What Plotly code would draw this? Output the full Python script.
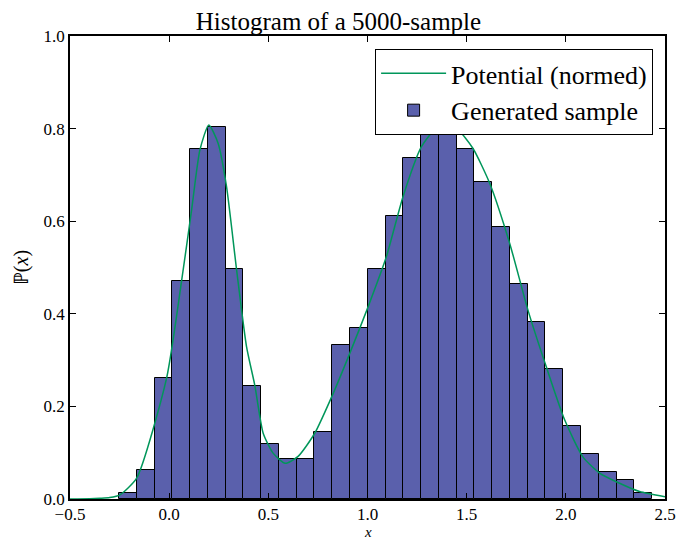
import plotly.graph_objects as go

# Histogram (density)
bin_start = -0.253
bin_width = 0.0896
density = [0.012, 0.062, 0.261, 0.471, 0.755, 0.804, 0.496, 0.245, 0.118, 0.086,
           0.086, 0.144, 0.332, 0.370, 0.496, 0.612, 0.737, 0.815, 0.786, 0.757,
           0.685, 0.588, 0.464, 0.383, 0.281, 0.158, 0.098, 0.058, 0.040, 0.014]

# Normed potential curve
curve_x = [-0.50, -0.40, -0.349, -0.30, -0.248, -0.164, -0.013, 0.063, 0.113, 0.155,
           0.200, 0.247, 0.289, 0.340, 0.390, 0.432, 0.474, 0.524, 0.585, 0.650,
           0.734, 0.827, 0.911, 1.003, 1.095, 1.179, 1.272, 1.347, 1.400, 1.456,
           1.532, 1.616, 1.717, 1.809, 1.901, 1.994, 2.086, 2.170, 2.271, 2.372, 2.50]
curve_y = [0.000, 0.0005, 0.0015, 0.003, 0.009, 0.045, 0.261, 0.472, 0.624, 0.754,
           0.808, 0.768, 0.675, 0.495, 0.329, 0.245, 0.142, 0.099, 0.077, 0.092,
           0.142, 0.228, 0.315, 0.415, 0.523, 0.653, 0.761, 0.801, 0.803, 0.797,
           0.757, 0.682, 0.552, 0.408, 0.286, 0.171, 0.091, 0.056, 0.034, 0.016, 0.005]

x_ticks = [-0.5, 0.0, 0.5, 1.0, 1.5, 2.0, 2.5]
x_labels = ["−0.5", "0.0", "0.5", "1.0", "1.5", "2.0", "2.5"]
y_ticks = [0.0, 0.2, 0.4, 0.6, 0.8, 1.0]
y_labels = ["0.0", "0.2", "0.4", "0.6", "0.8", "1.0"]

centers = [bin_start + bin_width * (i + 0.5) for i in range(len(density))]

SERIF = "Liberation Serif, Times New Roman, serif"

fig = go.Figure()
fig.add_trace(go.Scatter(
    x=curve_x, y=curve_y, mode="lines",
    line=dict(color="rgb(0,150,90)", width=1.5, shape="spline", smoothing=0.6),
    name="Potential (normed)", legendgroup="a"))
fig.add_trace(go.Bar(
    x=centers, y=density, width=bin_width,
    marker=dict(color="rgb(90,96,172)", line=dict(color="black", width=1)),
    name="Generated sample", legendgroup="b"))

axis_common = dict(showline=True, linecolor="black", linewidth=1.5, mirror="ticks",
                   ticks="inside", ticklen=6, tickcolor="black", showgrid=False,
                   zeroline=False, automargin=False,
                   tickfont=dict(family=SERIF, size=17, color="black"))

fig.update_layout(
    width=677, height=542,
    margin=dict(l=70, r=12, t=36, b=43),
    paper_bgcolor="white", plot_bgcolor="white",
    title=dict(text="Histogram of a 5000-sample", x=0.5, xanchor="center",
               y=0.96, yanchor="middle",
               font=dict(family=SERIF, size=25, color="black")),
    xaxis=dict(range=[-0.5, 2.5], tickvals=x_ticks, ticktext=x_labels,
               ticklabelstandoff=-1, **axis_common),
    yaxis=dict(range=[0, 1.0], tickvals=y_ticks, ticktext=y_labels,
               title=dict(text="ℙ(<i>x</i>)", font=dict(family=SERIF, size=20, color="black"), standoff=10),
               **axis_common),
    bargap=0,
    showlegend=True,
    legend=dict(x=0.98, y=0.972, xanchor="right", yanchor="top",
                bgcolor="white", bordercolor="black", borderwidth=1,
                font=dict(family=SERIF, size=26, color="black"),
                tracegroupgap=0, itemwidth=65),
    annotations=[dict(text="<i>x</i>", xref="paper", yref="paper", x=0.5, y=-43 / 463,
                      xanchor="center", yanchor="bottom", showarrow=False,
                      font=dict(family=SERIF, size=15, color="black"))],
)

# Remove the browser's default 8px page margin so the figure fills the window exactly.
fig.write_html("out.html", config={"displayModeBar": False},
               post_script="document.body.style.margin='0';")
